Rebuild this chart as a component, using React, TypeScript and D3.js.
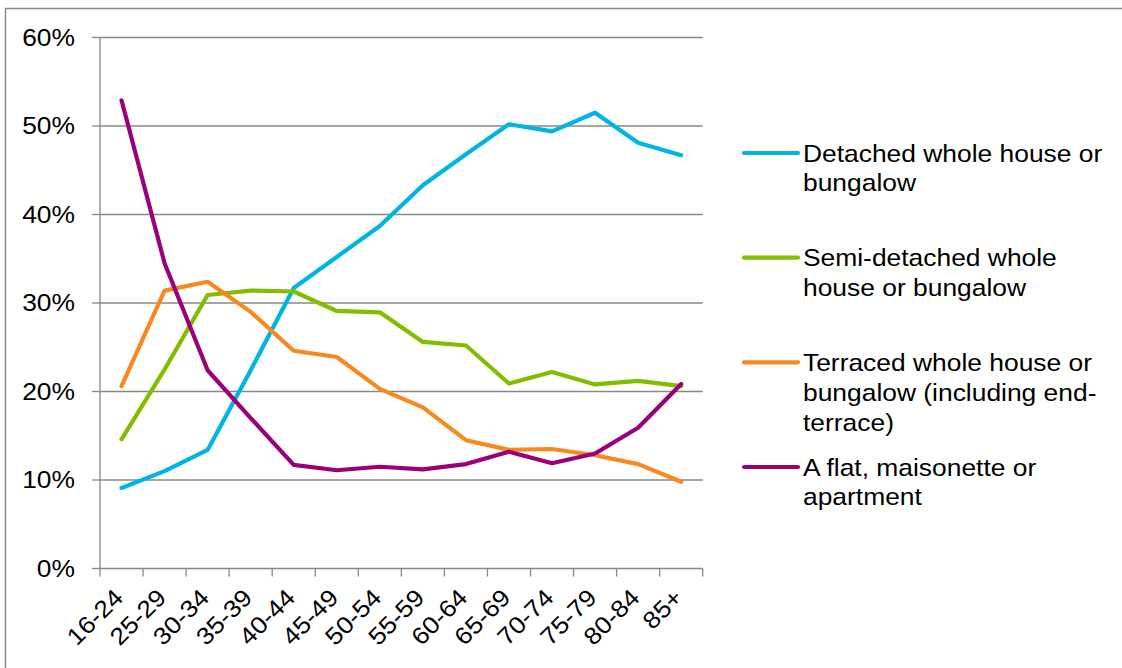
import React from "react";
import * as d3 from "d3";

const categories = ["16-24","25-29","30-34","35-39","40-44","45-49","50-54","55-59","60-64","65-69","70-74","75-79","80-84","85+"];
const detached = [9.1, 11.0, 13.4, 22.4, 31.7, 35.2, 38.7, 43.3, 46.8, 50.2, 49.4, 51.5, 48.1, 46.7];
const semiDetached = [14.6, 22.5, 30.9, 31.4, 31.3, 29.1, 28.95, 25.6, 25.2, 20.9, 22.2, 20.8, 21.2, 20.6];
const terraced = [20.6, 31.4, 32.4, 29.0, 24.6, 23.9, 20.3, 18.2, 14.5, 13.4, 13.5, 12.8, 11.8, 9.8];
const flat = [52.9, 34.5, 22.4, 17.0, 11.7, 11.1, 11.5, 11.2, 11.8, 13.2, 11.9, 13.0, 15.9, 20.85];
const yTicks = [0, 10, 20, 30, 40, 50, 60];

const seriesNames = [
  ["Detached whole house or", "bungalow"],
  ["Semi-detached whole", "house or bungalow"],
  ["Terraced whole house or", "bungalow (including end-", "terrace)"],
  ["A flat, maisonette or", "apartment"],
];
const seriesValues = [detached, semiDetached, terraced, flat];
const seriesColors = ["#00b5e2", "#84bd00", "#f7891f", "#99007a"];

const W = 1122, H = 668;
const left = 100, right = 702.7, top = 37.5, bottom = 568.5;
const font = "Arial, 'Liberation Sans', sans-serif";
const SX = 1.1;

export default function App() {
  const x = d3.scaleBand<string>().domain(categories).range([left, right]).padding(0);
  const y = d3.scaleLinear().domain([0, 60]).range([bottom, top]);
  const cx = (c: string) => (x(c) as number) + x.bandwidth() / 2;
  const line = d3.line<number>().x((_, i) => cx(categories[i])).y((d) => y(d));
  const boundaries = d3.range(categories.length + 1).map((i) => left + i * x.bandwidth());
  const legY = d3.scaleLinear().domain([0, 3]).range([153, 467]);

  return (
    <svg width={W} height={H} style={{ position: "absolute", left: 0, top: 0, fontFamily: font }}>
      <rect x={0} y={0} width={W} height={H} fill="#fff" />
      <path d={`M5.5,${H + 2} V8.5 H${W + 2}`} fill="none" stroke="#8a8a8a" strokeWidth={1.5} />
      {yTicks.map((t) => (
        <g key={t}>
          {t > 0 && <line x1={left} x2={right} y1={y(t)} y2={y(t)} stroke="#888" strokeWidth={1.3} />}
          <line x1={left - 8} x2={left} y1={y(t)} y2={y(t)} stroke="#888" strokeWidth={1.3} />
          <text transform={`translate(75,${y(t)}) scale(${SX},1)`} dy="0.35em" textAnchor="end" fontSize={24} fill="#000">{t}%</text>
        </g>
      ))}
      <line x1={left} x2={left} y1={top} y2={bottom} stroke="#888" strokeWidth={1.3} />
      <line x1={left} x2={right} y1={bottom} y2={bottom} stroke="#888" strokeWidth={1.3} />
      {boundaries.map((b, i) => (
        <line key={i} x1={b} x2={b} y1={bottom} y2={bottom + 8} stroke="#888" strokeWidth={1.3} />
      ))}
      {categories.map((c) => (
        <text key={c} transform={`translate(${cx(c) + 3},${599}) rotate(-45) scale(${SX},1)`} textAnchor="end" fontSize={24} fill="#000">{c}</text>
      ))}
      {seriesValues.map((vals, i) => (
        <path key={i} d={line(vals) || ""} fill="none" stroke={seriesColors[i]} strokeWidth={4.2} strokeLinejoin="round" strokeLinecap="round" />
      ))}
      {seriesNames.map((lines, i) => (
        <g key={i}>
          <line x1={744} x2={798} y1={legY(i)} y2={legY(i)} stroke={seriesColors[i]} strokeWidth={4.2} strokeLinecap="round" />
          <text transform={`translate(803,${legY(i) + 8.5}) scale(${SX},1)`} fontSize={24} fill="#000">
            {lines.map((l, j) => (
              <tspan key={j} x={0} dy={j === 0 ? 0 : 30}>{l}</tspan>
            ))}
          </text>
        </g>
      ))}
    </svg>
  );
}
